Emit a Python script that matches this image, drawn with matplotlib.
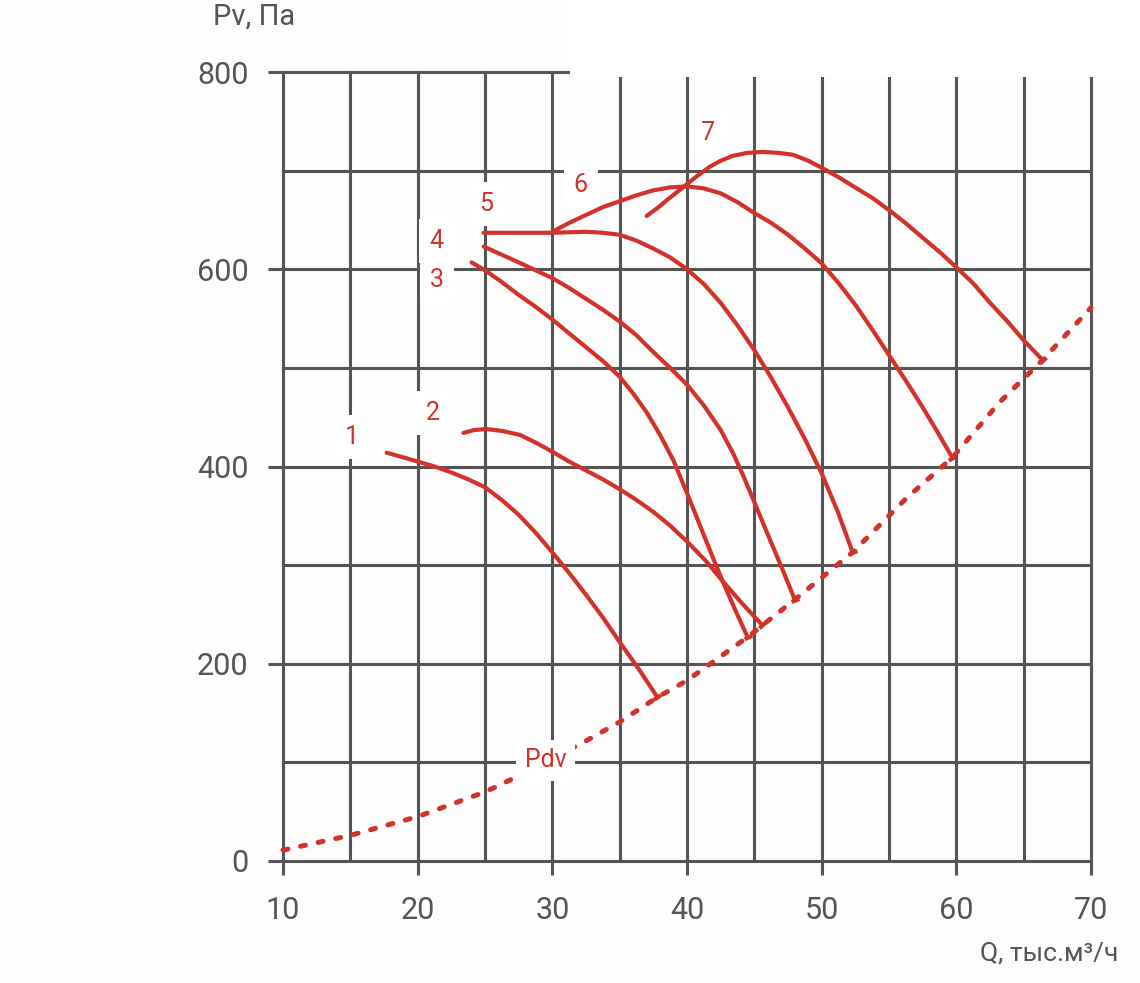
import numpy as np
import matplotlib
matplotlib.use("Agg")
import matplotlib.pyplot as plt
from matplotlib import font_manager
from matplotlib.patches import Rectangle

# ---------------- data ----------------
q1 = [17.7, 19.0, 20.0, 21.25, 22.5, 23.75, 25.0, 26.25, 27.5, 28.75, 30.0, 31.25, 32.5, 33.75, 35.0, 36.5, 37.8]
p1 = [414, 409, 405, 400, 394, 387, 379, 366, 351, 333, 313, 292, 270, 247, 222, 193, 166]

q2 = [23.4, 24.2, 25.1, 26.3, 27.6, 28.8, 30.0, 31.25, 32.5, 33.75, 35.0, 36.25, 37.5, 38.75, 40.0, 41.35, 42.7, 44.1, 45.6]
p2 = [434, 437, 438, 436, 432, 424, 415, 405, 396, 387, 377, 366, 354, 340, 324, 305, 283, 261, 239]

q3 = [24.0, 25.0, 26.25, 27.5, 28.75, 30.0, 31.25, 32.5, 33.75, 35.0, 36.0, 37.0, 38.0, 39.0, 40.0, 41.0, 42.0, 42.7, 43.6, 44.5]
p3 = [607, 599, 587, 574, 562, 549, 535, 521, 507, 491, 474, 455, 432, 406, 373, 339, 305, 282, 254, 227]

q4 = [24.9, 26.2, 27.5, 28.75, 30.0, 31.25, 32.5, 33.75, 35.0, 36.25, 37.5, 38.75, 40.0, 41.25, 42.5, 43.4, 44.2, 45.3, 46.4, 47.2, 48.0]
p4 = [623, 615, 607, 599, 591, 581, 570, 559, 547, 533, 516, 500, 483, 462, 437, 414, 390, 354, 318, 292, 265]

q5 = [24.9, 27.5, 30.0, 32.5, 33.75, 35.0, 36.25, 37.5, 38.75, 40.0, 41.25, 42.5, 43.75, 45.0, 46.25, 47.5, 48.75, 50.0, 51.2, 52.3]
p5 = [637, 637, 637, 638, 637, 635, 629, 621, 612, 600, 585, 566, 543, 518, 490, 460, 428, 393, 354, 313]

q6 = [30.0, 31.25, 32.5, 33.75, 35.0, 36.25, 37.5, 38.75, 40.0, 41.25, 42.5, 43.75, 45.0, 46.25, 47.5, 48.75, 50.0, 51.25, 52.5, 53.75, 55.0, 56.25, 57.5, 58.6, 59.7]
p6 = [638, 647, 655, 663, 669, 675, 680, 683, 684, 682, 677, 668, 657, 647, 635, 621, 606, 586, 564, 539, 513, 487, 460, 435, 409]

q7 = [37.0, 37.8, 38.5, 39.7, 40.7, 41.7, 42.5, 43.4, 44.5, 45.6, 46.8, 47.9, 49.0, 50.0, 51.3, 52.6, 53.8, 55.1, 56.3, 57.5, 58.8, 60.0, 61.3, 62.5, 63.8, 65.0, 66.4]
p7 = [654, 662, 670, 683, 694, 704, 710, 715, 718, 719, 718, 716, 710, 703, 693, 682, 672, 659, 646, 632, 617, 602, 585, 566, 547, 528, 508]

q_pdv = [10, 15, 20, 25, 27.6, 32.4, 35, 37.8, 40, 44.5, 45.6, 48, 52.3, 56.3, 59.7, 63.2, 66.4, 70]
p_pdv = [11, 26, 45, 70, 87, 121, 141, 166, 183, 227, 239, 265, 313, 368, 409, 465, 508, 561]

curve_names = ["1", "2", "3", "4", "5", "6", "7"]
label_q = [15.1, 21.1, 21.4, 21.4, 25.1, 32.1, 41.6]
label_p = [430, 454, 589, 629, 666, 685, 738]
pdv_label = "Pdv"
pdv_label_pos = (29.5, 102)

x_ticks = [10, 20, 30, 40, 50, 60, 70]
y_ticks = [0, 200, 400, 600, 800]
x_minor = [15, 25, 35, 45, 55, 65]
y_minor = [100, 300, 500, 700]
y_title = "Pv, Па"
x_title = "Q, тыс.м³/ч"

# ---------------- style ----------------
avail = {f.name for f in font_manager.fontManager.ttflist}
fam = [f for f in ["Liberation Sans Narrow", "Roboto", "DejaVu Sans"] if f in avail]
plt.rcParams["font.family"] = fam + ["DejaVu Sans"]

RED = "#d2322a"
GRID = "#545454"
W, H = 1140, 983

fig = plt.figure(figsize=(W / 100, H / 100), dpi=100, facecolor="#fdfdfd")
ax = fig.add_axes([283 / W, 1 - 861 / H, 808 / W, 789 / H])
ax.set_facecolor("none")
ax.set_xlim(10, 70)
ax.set_ylim(0, 800)
for s in ax.spines.values():
    s.set_visible(False)

ax.set_xticks(x_ticks)
ax.set_yticks(y_ticks)
ax.set_xticks(x_minor, minor=True)
ax.set_yticks(y_minor, minor=True)
ax.grid(which="both", color=GRID, lw=2.2)
for t in (ax.xaxis.get_minor_ticks() + ax.yaxis.get_minor_ticks()
          + ax.xaxis.get_major_ticks() + ax.yaxis.get_major_ticks()):
    t.gridline.set_clip_on(False)

ax.tick_params(which="minor", length=0)
ax.tick_params(axis="x", which="major", direction="out", length=10, width=2.2,
               color=GRID, pad=15, labelsize=22, labelcolor=GRID)
ax.tick_params(axis="y", which="major", direction="out", length=10.8, width=2.2,
               color=GRID, pad=14, labelsize=22, labelcolor=GRID)
ax.set_axisbelow(True)

# white block covering top-right of the grid
fig.patches.append(Rectangle((570 / W, 1 - 77 / H), 1 - 570 / W, 77 / H,
                             transform=fig.transFigure, facecolor="white",
                             edgecolor="none", zorder=5))

# ---------------- curves ----------------
curves = [(q1, p1), (q2, p2), (q3, p3), (q4, p4), (q5, p5), (q6, p6), (q7, p7)]
fig.canvas.draw()
for q, p in curves:
    ax.plot(q, p, color=RED, lw=3.0, solid_capstyle="round", solid_joinstyle="round",
            zorder=3, clip_on=False)
    a = ax.transData.transform((q[-2], p[-2]))
    b = ax.transData.transform((q[-1], p[-1]))
    ang = np.degrees(np.arctan2(b[1] - a[1], b[0] - a[0]))
    ax.plot([q[-1]], [p[-1]], marker=(2, 0, ang), markersize=6, mew=3,
            color=RED, zorder=3, clip_on=False)

ax.plot(q_pdv, p_pdv, color=RED, lw=3.6, dashes=(1.0, 2.6), dash_capstyle="round",
        zorder=3, clip_on=False)

for name, x, y in zip(curve_names, label_q, label_p):
    ax.text(x, y, name, color=RED, fontsize=18, ha="center", va="center", zorder=4,
            bbox=dict(boxstyle="square,pad=0.4", fc="white", ec="none"))
ax.text(pdv_label_pos[0], pdv_label_pos[1], pdv_label, color=RED, fontsize=18,
        ha="center", va="center", zorder=4,
        bbox=dict(boxstyle="square,pad=0.35", fc="white", ec="none"))

fig.text(213 / W, 1 - 17 / H, y_title, color=GRID, fontsize=21, ha="left", va="center")
fig.text(1118 / W, 1 - 953 / H, x_title, color=GRID, fontsize=19, ha="right", va="center")

fig.savefig("out.png", dpi=100, facecolor=fig.get_facecolor())
